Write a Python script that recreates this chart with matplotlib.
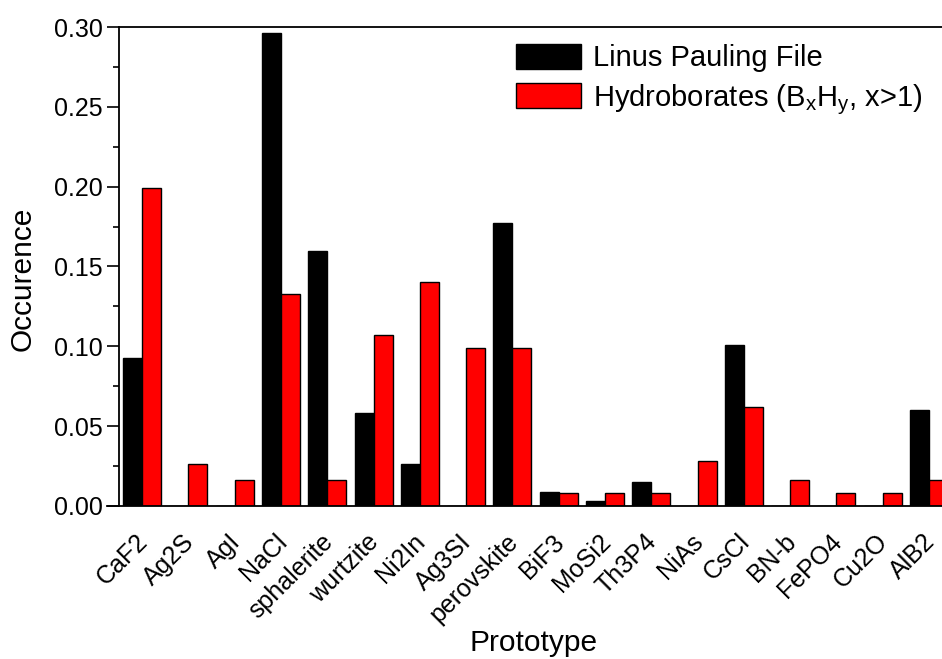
import numpy as np
import matplotlib
matplotlib.use("Agg")
import matplotlib.pyplot as plt
from matplotlib.ticker import MultipleLocator

plt.rcParams['font.family'] = ['Liberation Sans', 'DejaVu Sans']
plt.rcParams['mathtext.fontset'] = 'custom'
plt.rcParams['mathtext.rm'] = 'Liberation Sans'
plt.rcParams['mathtext.it'] = 'Liberation Sans'

prototypes = ["CaF2", "Ag2S", "AgI", "NaCl", "sphalerite", "wurtzite", "Ni2In",
              "Ag3SI", "perovskite", "BiF3", "MoSi2", "Th3P4", "NiAs", "CsCl",
              "BN-b", "FePO4", "Cu2O", "AlB2"]
pauling = [0.093, 0.0, 0.0, 0.296, 0.160, 0.058, 0.026, 0.0, 0.177, 0.0085,
           0.003, 0.015, 0.0, 0.101, 0.0, 0.0, 0.0, 0.060]
hydroborates = [0.199, 0.026, 0.016, 0.133, 0.016, 0.107, 0.140, 0.099, 0.099,
                0.008, 0.008, 0.008, 0.028, 0.062, 0.016, 0.008, 0.008, 0.016]

fig = plt.figure(figsize=(9.42, 6.59), dpi=100)
ax = fig.add_axes([0.1263, 0.2322, 0.8737, 0.7268])

x = np.arange(len(prototypes))
w = 0.41
ax.bar(x - w / 2, pauling, w, color='black', edgecolor='black', linewidth=1,
       label='Linus Pauling File')
ax.bar(x + w / 2, hydroborates, w, color='#ff0000', edgecolor='black', linewidth=1,
       label='Hydroborates (B$_x$H$_y$, x>1)')

ax.set_xlim(-0.5, 17.28)
ax.set_ylim(0, 0.30)
ax.yaxis.set_major_locator(MultipleLocator(0.05))
ax.yaxis.set_minor_locator(MultipleLocator(0.025))
ax.yaxis.set_major_formatter(matplotlib.ticker.FormatStrFormatter('%.2f'))
ax.tick_params(axis='y', which='major', direction='out', length=8.5, width=1.2,
               labelsize=18, pad=3)
ax.tick_params(axis='y', which='minor', direction='out', length=4.5, width=1.2)
ax.set_xticks(x)
ax.set_xticklabels(prototypes, rotation=45, ha='right', va='center_baseline',
                   rotation_mode='anchor')
ax.tick_params(axis='x', length=0, labelsize=18, pad=22)

for s in ['left', 'bottom', 'top']:
    ax.spines[s].set_linewidth(1.3)
ax.spines['right'].set_visible(False)
# bottom axis line runs a bit past the left spine
ax.spines['bottom'].set_bounds(-0.76, 17.28)

ax.set_ylabel('Occurence', fontsize=21.5)
ax.yaxis.set_label_coords(-0.100, 0.474)
ax.set_xlabel('Prototype', fontsize=21.5)
ax.xaxis.set_label_coords(0.504, -0.257)

ax.legend(loc='upper left', bbox_to_anchor=(0.45, 1.02), frameon=False,
          fontsize=21, handlelength=2.25, handleheight=0.95, handletextpad=0.4,
          labelspacing=0.33)

fig.savefig('out.png', dpi=100)
